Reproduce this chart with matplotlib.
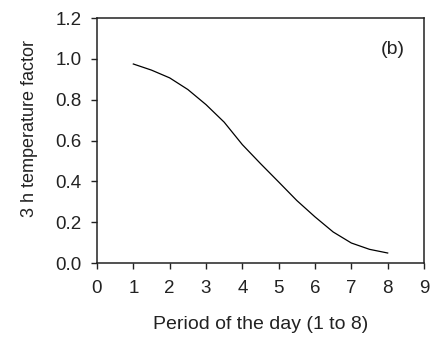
import matplotlib
matplotlib.use("Agg")
import matplotlib.pyplot as plt

plt.rcParams['font.family'] = ['Liberation Sans', 'DejaVu Sans']

period = [1, 1.5, 2, 2.5, 3, 3.5, 4, 4.5, 5, 5.5, 6, 6.5, 7, 7.5, 8]
factor = [0.975, 0.945, 0.907, 0.85, 0.776, 0.69, 0.58, 0.487, 0.397, 0.306, 0.226, 0.152, 0.098, 0.067, 0.049]
xticks = list(range(0, 10))
yticks = [0.0, 0.2, 0.4, 0.6, 0.8, 1.0, 1.2]

fig = plt.figure(figsize=(4.34, 3.41), dpi=100)
ax = fig.add_axes([0.2235, 0.2287, 0.7535, 0.7183])
ax.plot(period, factor, color='black', lw=0.9)
ax.set_xlim(0, 9)
ax.set_ylim(0, 1.2)
ax.set_xticks(xticks)
ax.set_yticks(yticks)
ax.set_yticklabels([f"{v:.1f}" for v in yticks])
ax.tick_params(direction='out', length=4, width=1, labelsize=13.5, colors='#222222')
ax.tick_params(axis='x', pad=8)
ax.tick_params(axis='y', pad=7)
for s in ax.spines.values():
    s.set_linewidth(1.1)
    s.set_color('#222222')
ax.set_xlabel("Period of the day (1 to 8)", fontsize=14, color='#222222')
ax.set_ylabel("3 h temperature factor", fontsize=13, color='#222222')
ax.xaxis.set_label_coords(0.5, -0.215)
ax.yaxis.set_label_coords(-0.18, 0.55)
ax.text(0.905, 0.87, "(b)", transform=ax.transAxes, fontsize=14, ha='center', va='center', color='#222222')
fig.savefig("out.png", dpi=100)
